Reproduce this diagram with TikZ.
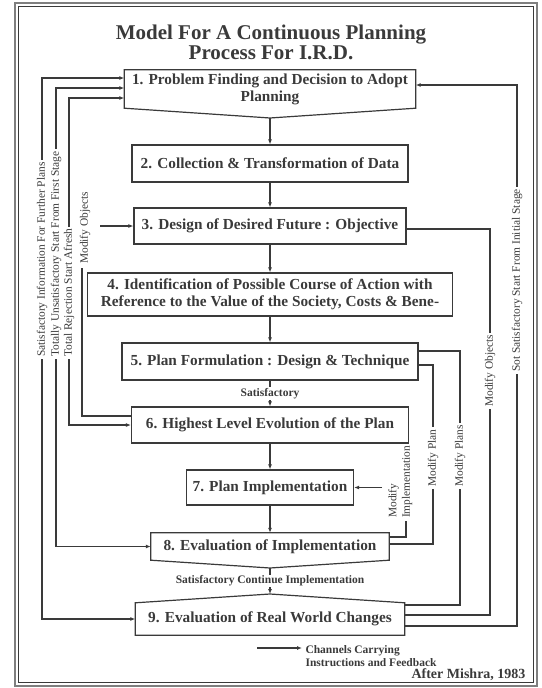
\documentclass[tikz,border=0pt]{standalone}
\usepackage{fontspec}
\setmainfont{Liberation Serif}
\usepackage{xcolor}
\usetikzlibrary{arrows.meta}

\definecolor{ink}{HTML}{3A3A3A}

\tikzset{
	box/.style={draw=ink, line width=1.2pt, inner sep=0pt, align=center, text=ink, font=\fontsize{15.3}{17}\selectfont\bfseries},
	tbox/.style={inner sep=0pt, align=center, text=ink, font=\fontsize{15.3}{17}\selectfont\bfseries},
	boxline/.style={draw=ink, line width=1.2pt, line join=miter},
	chan/.style={draw=ink, line width=1.1pt},
	arr/.style={-{Latex[length=5pt,width=4pt]}},
	darr/.style={{Latex[length=5pt,width=4pt]}-{Latex[length=5pt,width=4pt]}},
	side/.style={rotate=90, anchor=west, fill=white, inner xsep=2pt, inner ysep=0.5pt, text=ink, font=\fontsize{11.4}{12.5}\selectfont},
	lbl/.style={fill=white, inner sep=1pt, text=ink, font=\fontsize{11.5}{13}\selectfont\bfseries}
}

\begin{document}
\begin{tikzpicture}[x=1pt,y=-1pt]
	\useasboundingbox (0,0) rectangle (541,688);
	
	% frame
	\draw[ink!65, line width=2.4pt] (15,3) rectangle (537,686);
	\draw[ink, line width=0.9pt] (18.5,6.5) rectangle (533.5,682.5);
	
	% title
	\node[text=ink, align=center, font=\fontsize{21}{20}\selectfont\bfseries] (ttl) at (271,42) {Model For A Continuous Planning\\Process For I.R.D.};
	
	% boxes
	\node[tbox, minimum width=291pt, minimum height=38pt] (b1) at (270,89) {1. Problem Finding and Decision to Adopt\\Planning};
	\coordinate (b1tip) at (270,118);
	\draw[boxline] (b1.north west) -- (b1.north east) -- (b1.south east) -- (b1tip) -- (b1.south west) -- cycle;
	
	\node[box, minimum width=276pt, minimum height=37pt] (b2) at (270,163.5) {2. Collection \& Transformation of Data};
	\node[box, minimum width=272pt, minimum height=36pt] (b3) at (270,226) {3. Design of Desired Future : Objective};
	\node[box, minimum width=365pt, minimum height=43pt] (b4) at (270,294.5) {4. Identification of Possible Course of Action with\\Reference to the Value of the Society, Costs \& Bene-};
	\node[box, minimum width=296pt, minimum height=37pt] (b5) at (270,361.5) {5. Plan Formulation : Design \& Technique};
	\node[box, minimum width=277pt, minimum height=36pt] (b6) at (270,425) {6. Highest Level Evolution of the Plan};
	\node[box, minimum width=167pt, minimum height=35pt] (b7) at (270,487.5) {7. Plan Implementation};
	
	\node[tbox, minimum width=238pt, minimum height=27pt] (b8) at (270,546.5) {8. Evaluation of Implementation};
	\coordinate (b8tip) at (270,568);
	\draw[boxline] (b8.north west) -- (b8.north east) -- (b8.south east) -- (b8tip) -- (b8.south west) -- cycle;
	
	\node[tbox, minimum width=269pt, minimum height=32pt] (b9) at (270,619) {9. Evaluation of Real World Changes};
	\coordinate (b9top) at (270,594);
	\draw[boxline] (b9.north west) -- (b9top) -- (b9.north east) -- (b9.south east) -- (b9.south west) -- cycle;
	
	% main flow
	\draw[chan, arr] (b1tip) -- (b2);
	\draw[chan, arr] (b2) -- (b3);
	\draw[chan, arr] (b3) -- (b4);
	\draw[chan, arr] (b4) -- (b5);
	\draw[chan, arr] (b5) -- node[lbl] (sat) {Satisfactory} (b6);
	\draw[chan, arr] (b6) -- (b7);
	\draw[chan, arr] (b7) -- (b8);
	\draw[chan, arr] (b8tip) -- node[lbl] (cont) {Satisfactory Continue Implementation} (b9top);
	
	% left channels
	\coordinate (ta) at (42,78);
	\coordinate (tb) at (56,88);
	\coordinate (tc) at (69,98);
	\draw[chan, darr] (b1.west |- ta) -- (ta) |- (b9.west);
	\draw[chan, darr] (b1.west |- tb) -- (tb) |- (b8.west);
	\draw[chan, darr] (b1.west |- tc) -- (tc) |- (b6.west);
	
	\coordinate (mot) at (82,268);
	\coordinate (mob) at (82,416);
	\coordinate (moa) at (100,226);
	\draw[chan] (mot) -- (mob) -- (b6.west |- mob);
	\draw[chan, arr] (moa) -- (b3.west);
	
	% right channels
	\coordinate (roa) at (490,229);
	\coordinate (rob) at (490,615);
	\draw[chan] (b3.east |- roa) -- (roa) -- (rob) -- (b9.east |- rob);
	
	\coordinate (rpa) at (460,351);
	\coordinate (rpb) at (460,605);
	\draw[chan] (b5.east |- rpa) -- (rpa) -- (rpb) -- (b9.east |- rpb);
	
	\coordinate (rqa) at (433,365);
	\coordinate (rqb) at (433,544);
	\draw[chan] (b5.east |- rqa) -- (rqa) -- (rqb) -- (b8.east |- rqb);
	
	\coordinate (ria) at (406,521);
	\coordinate (rib) at (406,537);
	\coordinate (ric) at (382,487.5);
	\draw[chan] (ria) -- (rib) -- (b8.east |- rib);
	\draw[chan, arr] (ric) -- (b7.east);
	
	\coordinate (rsa) at (517,85);
	\coordinate (rsb) at (517,626);
	\draw[chan, arr] (b9.east |- rsb) -- (rsb) -- (rsa) -- (b1.east |- rsa);
	
	% channel labels
	\node[side] (la) at (42,359) {Satisfactory Information For Further Plans};
	\node[side] (lb) at (56,359) {Totally Unsatisfactory Start From First Stage};
	\node[side] (lc) at (69,359) {Total Rejection Start Afresh};
	\node[side, fill=none] (lm) at (85,266) {Modify Objects};
	\node[side] (ro) at (490,409) {Modify Objects};
	\node[side] (rp) at (460,489) {Modify Plans};
	\node[side] (rq) at (433,489) {Modify Plan};
	\node[side, anchor=south west, align=left, font=\fontsize{11.4}{13.5}\selectfont] (ri) at (413,520) {Modify\\Implementation};
	\node[side] (rs) at (517,374) {Sot Satisfactory Start From Initial Stage};
	
	% legend
	\coordinate (lga) at (257,648);
	\node[anchor=west, align=left, text=ink, font=\fontsize{11.5}{13}\selectfont\bfseries] (lgt) at (302,656.5) {Channels Carrying\\Instructions and Feedback};
	\draw[chan, arr] (lga) -- (lga -| lgt.west);
	\node[anchor=east, text=ink, font=\fontsize{14}{16}\selectfont\bfseries] (src) at (529,675) {After Mishra, 1983};
	
\end{tikzpicture}
\end{document}
